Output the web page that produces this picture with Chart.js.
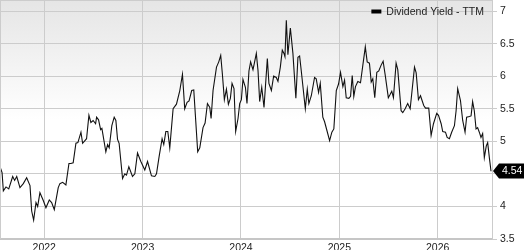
<!DOCTYPE html>
<html>
<head>
<meta charset="utf-8">
<script src="https://cdn.jsdelivr.net/npm/chart.js@4.4.1/dist/chart.umd.min.js"></script>
<style>
  html, body { margin: 0; padding: 0; background: #fff; }
  #wrap { width: 527px; height: 250px; }
</style>
</head>
<body>
<div id="wrap"><canvas id="yieldChart" width="527" height="250"></canvas></div>
<script>
// dates as decimal years (weekly-ish samples)
let dates = [
  2021.550, 2021.571, 2021.584, 2021.611, 2021.639, 2021.679, 2021.699, 2021.720, 2021.753, 2021.787,
  2021.821, 2021.855, 2021.872, 2021.892, 2021.916, 2021.933, 2021.956, 2021.990, 2022.017, 2022.051,
  2022.075, 2022.102, 2022.142, 2022.159, 2022.187, 2022.220, 2022.251, 2022.271, 2022.294, 2022.322,
  2022.342, 2022.373, 2022.390, 2022.430, 2022.454, 2022.474, 2022.497, 2022.522, 2022.532, 2022.552,
  2022.573, 2022.586, 2022.626, 2022.644, 2022.660, 2022.687, 2022.711, 2022.728, 2022.745, 2022.761,
  2022.796, 2022.819, 2022.836, 2022.860, 2022.897, 2022.921, 2022.948, 2022.982, 2023.022, 2023.050,
  2023.090, 2023.124, 2023.141, 2023.168, 2023.198, 2023.215, 2023.236, 2023.256, 2023.276, 2023.310,
  2023.344, 2023.378, 2023.405, 2023.428, 2023.452, 2023.472, 2023.499, 2023.520, 2023.560, 2023.581,
  2023.614, 2023.635, 2023.659, 2023.683, 2023.696, 2023.716, 2023.751, 2023.774, 2023.794, 2023.811,
  2023.831, 2023.852, 2023.872, 2023.892, 2023.909, 2023.929, 2023.946, 2023.970, 2023.987, 2024.004,
  2024.020, 2024.045, 2024.061, 2024.081, 2024.098, 2024.122, 2024.136, 2024.156, 2024.173, 2024.190,
  2024.211, 2024.234, 2024.268, 2024.284, 2024.309, 2024.332, 2024.359, 2024.376, 2024.400, 2024.420,
  2024.437, 2024.447, 2024.461, 2024.477, 2024.502, 2024.528, 2024.558, 2024.579, 2024.596, 2024.613,
  2024.654, 2024.674, 2024.690, 2024.715, 2024.748, 2024.765, 2024.789, 2024.806, 2024.832, 2024.850,
  2024.873, 2024.901, 2024.924, 2024.944, 2024.969, 2024.992, 2025.012, 2025.036, 2025.053, 2025.070,
  2025.097, 2025.114, 2025.131, 2025.147, 2025.164, 2025.188, 2025.215, 2025.239, 2025.264, 2025.283,
  2025.306, 2025.324, 2025.340, 2025.360, 2025.381, 2025.401, 2025.425, 2025.445, 2025.466, 2025.498,
  2025.516, 2025.533, 2025.550, 2025.577, 2025.594, 2025.628, 2025.645, 2025.669, 2025.695, 2025.720,
  2025.764, 2025.781, 2025.804, 2025.825, 2025.858, 2025.876, 2025.909, 2025.933, 2025.957, 2025.990,
  2026.008, 2026.035, 2026.051, 2026.079, 2026.096, 2026.119, 2026.142, 2026.170, 2026.187, 2026.203,
  2026.231, 2026.254, 2026.278, 2026.294, 2026.322, 2026.339, 2026.355, 2026.372, 2026.390, 2026.406,
  2026.423, 2026.440, 2026.457, 2026.474, 2026.494, 2026.508, 2026.525, 2026.542
];

let yields = [
  4.61, 4.52, 4.24, 4.30, 4.27, 4.46, 4.40, 4.46, 4.29, 4.35,
  4.44, 4.32, 3.93, 3.79, 4.06, 4.00, 4.21, 4.09, 3.98, 4.10,
  4.06, 3.95, 4.29, 4.35, 4.37, 4.33, 4.66, 4.66, 4.67, 4.97,
  4.98, 5.14, 4.97, 5.04, 5.40, 5.29, 5.32, 5.27, 5.37, 5.33,
  5.18, 5.20, 4.84, 4.95, 4.90, 5.24, 5.37, 5.32, 5.03, 4.97,
  4.43, 4.50, 4.48, 4.61, 4.46, 4.50, 4.82, 4.69, 4.56, 4.69,
  4.47, 4.46, 4.50, 4.77, 5.04, 4.95, 5.15, 5.15, 4.90, 5.50,
  5.57, 5.78, 6.03, 5.50, 5.60, 5.62, 5.78, 5.79, 4.84, 4.90,
  5.21, 5.28, 5.58, 5.52, 5.35, 5.78, 6.14, 6.22, 6.32, 6.03,
  5.64, 5.80, 5.57, 5.66, 5.89, 5.81, 5.15, 5.35, 5.58, 5.64,
  5.95, 5.83, 5.58, 6.08, 6.22, 6.10, 6.20, 6.35, 6.09, 5.61,
  5.83, 5.52, 6.27, 5.89, 5.78, 6.00, 5.98, 5.92, 6.14, 6.40,
  6.35, 6.30, 6.86, 6.33, 6.74, 6.35, 5.66, 6.29, 6.31, 6.08,
  5.50, 5.80, 5.58, 5.70, 5.98, 5.96, 5.75, 5.89, 5.37, 5.30,
  5.17, 5.01, 5.14, 5.19, 5.78, 5.88, 6.06, 5.84, 5.94, 5.67,
  5.66, 5.69, 6.01, 5.69, 5.84, 5.92, 5.90, 6.17, 6.45, 6.22,
  6.20, 5.91, 5.96, 5.67, 6.06, 6.08, 6.17, 6.23, 6.02, 5.67,
  5.72, 5.77, 5.67, 6.20, 6.10, 5.47, 5.44, 5.50, 5.58, 5.50,
  6.14, 6.05, 5.64, 5.70, 5.55, 5.51, 5.51, 5.09, 5.27, 5.43,
  5.40, 5.27, 5.15, 5.14, 5.06, 5.04, 5.14, 5.24, 5.47, 5.81,
  5.63, 5.32, 5.14, 5.37, 5.38, 5.39, 5.61, 5.47, 5.19, 5.21,
  5.14, 5.06, 5.12, 4.75, 4.93, 4.98, 4.75, 4.54
];

let yearTicks = [2022, 2023, 2024, 2025, 2026];
let yieldTicks = [3.5, 4, 4.5, 5, 5.5, 6, 6.5, 7];
let seriesName = "Dividend Yield - TTM";

const FONT = "'Liberation Sans', Arial, sans-serif";

// grey-to-white wash behind the plot, legend and last-value flag on top
const chartDecor = {
  id: 'chartDecor',
  beforeDraw(chart) {
    const { ctx, chartArea: a } = chart;
    const g = ctx.createLinearGradient(0, a.top, 0, a.bottom);
    g.addColorStop(0, '#e5e5e5');
    g.addColorStop(0.5, '#ffffff');
    g.addColorStop(1, '#ffffff');
    ctx.save();
    ctx.fillStyle = g;
    ctx.fillRect(a.left, a.top, a.right - a.left, a.bottom - a.top);
    ctx.restore();
  },
  afterDraw(chart) {
    const { ctx, chartArea: a } = chart;
    ctx.save();
    // top and left frame lines
    ctx.strokeStyle = '#cccccc';
    ctx.lineWidth = 1;
    ctx.beginPath();
    ctx.moveTo(a.left, a.top + 0.5);
    ctx.lineTo(a.right, a.top + 0.5);
    ctx.moveTo(a.left + 0.5, a.top);
    ctx.lineTo(a.left + 0.5, a.bottom);
    ctx.stroke();

    // legend, top right inside the plot
    ctx.font = '10.5px ' + FONT;
    ctx.textBaseline = 'middle';
    ctx.textAlign = 'right';
    ctx.fillStyle = '#222';
    const ly = a.top + 12;
    const tx = a.right - 8;
    ctx.fillText(seriesName, tx, ly);
    const tw = ctx.measureText(seriesName).width;
    ctx.fillStyle = '#000';
    ctx.fillRect(tx - tw - 15, ly - 2.5, 10, 4);

    // last value flag
    const last = yields[yields.length - 1];
    const y = Math.round(chart.scales.y.getPixelForValue(last));
    const x0 = a.right + 1;
    ctx.fillStyle = '#000';
    ctx.beginPath();
    ctx.moveTo(x0, y);
    ctx.lineTo(x0 + 6, y - 7.5);
    ctx.lineTo(x0 + 31, y - 7.5);
    ctx.lineTo(x0 + 31, y + 7.5);
    ctx.lineTo(x0 + 6, y + 7.5);
    ctx.closePath();
    ctx.fill();
    ctx.fillStyle = '#fff';
    ctx.textAlign = 'left';
    ctx.fillText(last.toFixed(2), x0 + 9, y + 0.5);
    ctx.restore();
  }
};

let ctx = document.getElementById('yieldChart').getContext('2d');

let yieldChart = new Chart(ctx, {
  type: 'line',
  data: {
    datasets: [{
      label: seriesName,
      data: dates.map((d, i) => ({ x: d, y: yields[i] })),
      borderColor: '#111111',
      backgroundColor: '#000000',
      borderWidth: 1.1,
      pointRadius: 0,
      tension: 0
    }]
  },
  options: {
    responsive: false,
    animation: false,
    layout: { padding: { top: 0, left: 0, right: 0, bottom: 0 } },
    plugins: {
      legend: { display: false },
      tooltip: { enabled: false }
    },
    scales: {
      x: {
        type: 'linear',
        min: 2021.55,
        max: 2026.552,
        afterBuildTicks: s => { s.ticks = yearTicks.map(v => ({ value: v })); },
        afterFit: s => { s.height = 11; s.paddingLeft = 0; s.paddingRight = 0; },
        grid: { color: '#cccccc', lineWidth: 1, drawTicks: false },
        border: { color: '#c6c6c6', width: 2 },
        ticks: {
          callback: v => String(v),
          color: '#222',
          font: { family: FONT, size: 10.5 },
          padding: 3,
          maxRotation: 0,
          autoSkip: false
        }
      },
      y: {
        position: 'right',
        min: 3.5,
        max: 7.17,
        afterBuildTicks: s => { s.ticks = yieldTicks.map(v => ({ value: v })); },
        afterFit: s => { s.width = 35; s.paddingTop = 0; s.paddingBottom = 0; },
        grid: { color: '#cccccc', lineWidth: 1, tickLength: 5 },
        border: { color: '#cccccc', width: 1 },
        ticks: {
          callback: v => String(v),
          color: '#222',
          font: { family: FONT, size: 10.5 },
          padding: 3
        }
      }
    }
  },
  plugins: [chartDecor]
});
</script>
</body>
</html>
